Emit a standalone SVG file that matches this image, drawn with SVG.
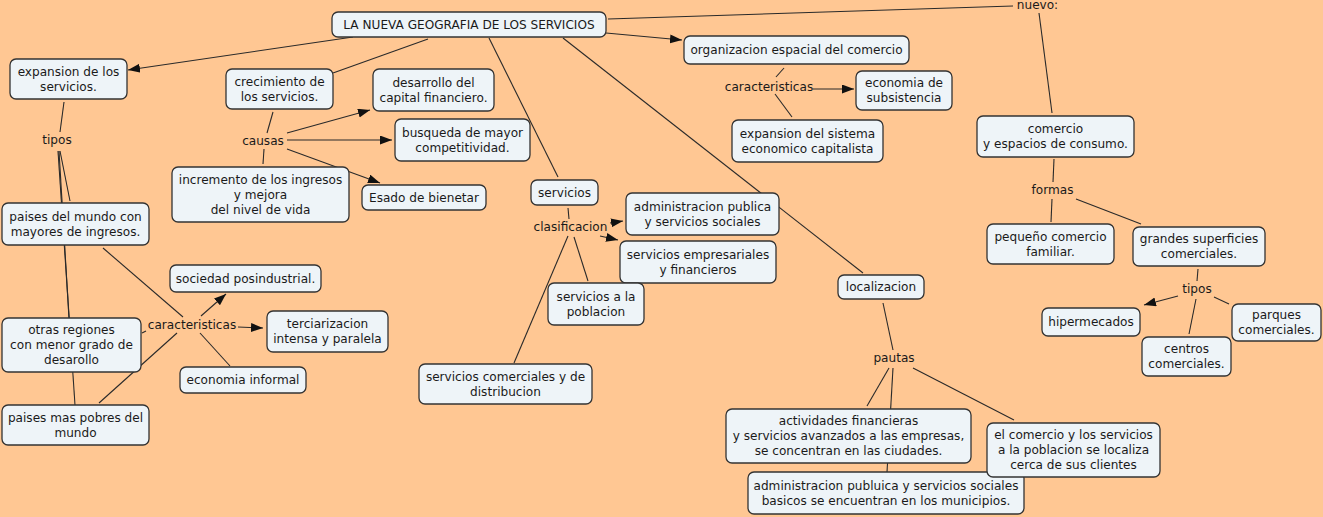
<svg xmlns="http://www.w3.org/2000/svg" width="1323" height="517" viewBox="0 0 1323 517">
<defs>
<style>
.bg{fill:#FFC793}
.n rect{fill:#EEF4F8;stroke:#333;stroke-width:1.3}
text{font-family:"DejaVu Sans",Verdana,sans-serif;font-size:12.1px;fill:#1a1a1a;text-anchor:middle}
.c line{stroke:#2a2a2a;stroke-width:1.1;fill:none}
.a{marker-end:url(#ah)}
</style>
<marker id="ah" markerUnits="userSpaceOnUse" markerWidth="13" markerHeight="10" refX="12" refY="4.5" orient="auto">
<path d="M0,0 L12,4.5 L0,9 z" fill="#111"/>
</marker>
</defs>
<rect class="bg" x="0" y="0" width="1323" height="517"/>
<g id="connectors" class="c">
<line class="a" x1="353" y1="37" x2="128" y2="70"/>
<line x1="428" y1="39" x2="333" y2="73"/>
<line x1="489" y1="38" x2="558" y2="177"/>
<line x1="563" y1="38" x2="863" y2="273"/>
<line class="a" x1="606" y1="33" x2="682" y2="40"/>
<line x1="608" y1="19" x2="1013" y2="6"/>
<line x1="1039" y1="13" x2="1052" y2="113"/>
<line x1="64" y1="102" x2="60" y2="132"/>
<line x1="58" y1="151" x2="75" y2="405"/>
<line x1="59" y1="151" x2="69" y2="318"/>
<line x1="60" y1="151" x2="70" y2="201"/>
<line x1="103" y1="248" x2="183" y2="317"/>
<line x1="142" y1="333" x2="146" y2="331"/>
<line x1="99" y1="403" x2="177" y2="333"/>
<line class="a" x1="201" y1="316" x2="226" y2="294"/>
<line class="a" x1="238" y1="327" x2="263" y2="328"/>
<line x1="200" y1="333" x2="230" y2="366"/>
<line x1="273" y1="112" x2="267" y2="133"/>
<line x1="264" y1="149" x2="263" y2="164"/>
<line class="a" x1="287" y1="133" x2="370" y2="110"/>
<line class="a" x1="287" y1="140" x2="392" y2="140"/>
<line class="a" x1="287" y1="149" x2="380" y2="183"/>
<line x1="568" y1="208" x2="569" y2="219"/>
<line class="a" x1="610" y1="223" x2="623" y2="221"/>
<line class="a" x1="600" y1="236" x2="618" y2="240"/>
<line x1="574" y1="237" x2="588" y2="281"/>
<line x1="568" y1="236" x2="514" y2="363"/>
<line x1="784" y1="68" x2="776" y2="77"/>
<line class="a" x1="813" y1="89" x2="854" y2="89"/>
<line x1="775" y1="94" x2="792" y2="117"/>
<line x1="1054" y1="159" x2="1053" y2="182"/>
<line x1="1052" y1="199" x2="1051" y2="222"/>
<line x1="1076" y1="199" x2="1141" y2="224"/>
<line x1="1198" y1="269" x2="1197" y2="281"/>
<line class="a" x1="1178" y1="296" x2="1144" y2="305"/>
<line x1="1196" y1="299" x2="1189" y2="334"/>
<line x1="1214" y1="297" x2="1229" y2="304"/>
<line x1="883" y1="303" x2="893" y2="350"/>
<line x1="889" y1="368" x2="867" y2="406"/>
<line x1="893" y1="368" x2="887" y2="472"/>
<line x1="913" y1="368" x2="1014" y2="420"/>
</g>
<g id="labels">
<text x="263" y="145">causas</text>
<text x="57" y="144">tipos</text>
<text x="192" y="329">caracteristicas</text>
<text x="570.5" y="231">clasificacion</text>
<text x="769" y="91">caracteristicas</text>
<text x="1037.5" y="9">nuevo:</text>
<text x="1052.5" y="194">formas</text>
<text x="1197" y="293">tipos</text>
<text x="894" y="362">pautas</text>
</g>
<g id="n-title" class="n"><rect x="332" y="12" width="274" height="25" rx="6"/><text x="469" y="29">LA NUEVA GEOGRAFIA DE LOS SERVICIOS</text></g>
<g id="n-expansion" class="n"><rect x="10" y="59" width="117" height="40" rx="6"/><text x="68.5" y="75.5">expansion de los</text><text x="68.5" y="90.5">servicios.</text></g>
<g id="n-crecimiento" class="n"><rect x="226" y="69" width="107" height="40" rx="6"/><text x="279.5" y="85.5">crecimiento de</text><text x="279.5" y="100.5">los servicios.</text></g>
<g id="n-desarrollo" class="n"><rect x="373" y="69" width="121" height="42" rx="6"/><text x="433.5" y="86.5">desarrollo del</text><text x="433.5" y="101.5">capital financiero.</text></g>
<g id="n-busqueda" class="n"><rect x="395" y="119" width="135" height="42" rx="6"/><text x="462.5" y="136.5">busqueda de mayor</text><text x="462.5" y="151.5">competitividad.</text></g>
<g id="n-esado" class="n"><rect x="362" y="185" width="124" height="25" rx="6"/><text x="424" y="201.5">Esado de bienetar</text></g>
<g id="n-incremento" class="n"><rect x="172" y="167" width="177" height="55" rx="6"/><text x="260.5" y="183.5">incremento de los ingresos</text><text x="260.5" y="198.5">y mejora</text><text x="260.5" y="213.5">del nivel de vida</text></g>
<g id="n-paises-mundo" class="n"><rect x="2" y="203" width="147" height="42" rx="6"/><text x="75.5" y="220.5">paises del mundo con</text><text x="75.5" y="235.5">mayores de ingresos.</text></g>
<g id="n-otras" class="n"><rect x="2" y="318" width="139" height="54" rx="6"/><text x="71.5" y="334">otras regiones</text><text x="71.5" y="349">con menor grado de</text><text x="71.5" y="364">desarollo</text></g>
<g id="n-pobres" class="n"><rect x="2" y="405" width="147" height="40" rx="6"/><text x="75.5" y="421.5">paises mas pobres del</text><text x="75.5" y="436.5">mundo</text></g>
<g id="n-sociedad" class="n"><rect x="170" y="265" width="151" height="27" rx="6"/><text x="245.5" y="282.5">sociedad posindustrial.</text></g>
<g id="n-terciarizacion" class="n"><rect x="267" y="311" width="121" height="41" rx="6"/><text x="327.5" y="328">terciarizacion</text><text x="327.5" y="343">intensa y paralela</text></g>
<g id="n-informal" class="n"><rect x="180" y="367" width="126" height="26" rx="6"/><text x="243" y="384">economia informal</text></g>
<g id="n-servicios" class="n"><rect x="531" y="180" width="67" height="25" rx="6"/><text x="564.5" y="196.5">servicios</text></g>
<g id="n-admin" class="n"><rect x="626" y="193" width="153" height="42" rx="6"/><text x="702.5" y="210.5">administracion publica</text><text x="702.5" y="225.5">y servicios sociales</text></g>
<g id="n-empresariales" class="n"><rect x="620" y="241" width="156" height="42" rx="6"/><text x="698" y="258.5">servicios empresariales</text><text x="698" y="273.5">y financieros</text></g>
<g id="n-poblacion" class="n"><rect x="548" y="283" width="96" height="42" rx="6"/><text x="596" y="300.5">servicios a la</text><text x="596" y="315.5">poblacion</text></g>
<g id="n-comerciales" class="n"><rect x="419" y="364" width="173" height="40" rx="6"/><text x="505.5" y="380.5">servicios comerciales y de</text><text x="505.5" y="395.5">distribucion</text></g>
<g id="n-organizacion" class="n"><rect x="684" y="36" width="225" height="28" rx="6"/><text x="796.5" y="54">organizacion espacial del comercio</text></g>
<g id="n-subsistencia" class="n"><rect x="856" y="71" width="96" height="39" rx="6"/><text x="904" y="87">economia de</text><text x="904" y="102">subsistencia</text></g>
<g id="n-sistema" class="n"><rect x="732" y="120" width="151" height="42" rx="6"/><text x="807.5" y="137.5">expansion del sistema</text><text x="807.5" y="152.5">economico capitalista</text></g>
<g id="n-comercio" class="n"><rect x="977" y="116" width="157" height="41" rx="6"/><text x="1055.5" y="133">comercio</text><text x="1055.5" y="148">y espacios de consumo.</text></g>
<g id="n-pequeno" class="n"><rect x="987" y="224" width="127" height="40" rx="6"/><text x="1050.5" y="240.5">pequeño comercio</text><text x="1050.5" y="255.5">familiar.</text></g>
<g id="n-grandes" class="n"><rect x="1133" y="227" width="132" height="39" rx="6"/><text x="1199" y="243">grandes superficies</text><text x="1199" y="258">comerciales.</text></g>
<g id="n-hipermecados" class="n"><rect x="1042" y="308" width="98" height="28" rx="6"/><text x="1091" y="326">hipermecados</text></g>
<g id="n-centros" class="n"><rect x="1142" y="337" width="89" height="39" rx="6"/><text x="1186.5" y="353">centros</text><text x="1186.5" y="368">comerciales.</text></g>
<g id="n-parques" class="n"><rect x="1232" y="304" width="89" height="37" rx="6"/><text x="1276.5" y="319">parques</text><text x="1276.5" y="334">comerciales.</text></g>
<g id="n-localizacion" class="n"><rect x="838" y="275" width="86" height="24" rx="6"/><text x="881" y="291">localizacion</text></g>
<g id="n-actividades" class="n"><rect x="726" y="409" width="245" height="54" rx="6"/><text x="848.5" y="425">actividades financieras</text><text x="848.5" y="440">y servicios avanzados a las empresas,</text><text x="848.5" y="455">se concentran en las ciudades.</text></g>
<g id="n-admin-basicos" class="n"><rect x="748" y="472" width="276" height="42" rx="6"/><text x="886" y="489.5">administracion publuica y servicios sociales</text><text x="886" y="504.5">basicos se encuentran en los municipios.</text></g>
<g id="n-cerca" class="n"><rect x="987" y="423" width="173" height="54" rx="6"/><text x="1073.5" y="439">el comercio y los servicios</text><text x="1073.5" y="454">a la poblacion se localiza</text><text x="1073.5" y="469">cerca de sus clientes</text></g>
</svg>
